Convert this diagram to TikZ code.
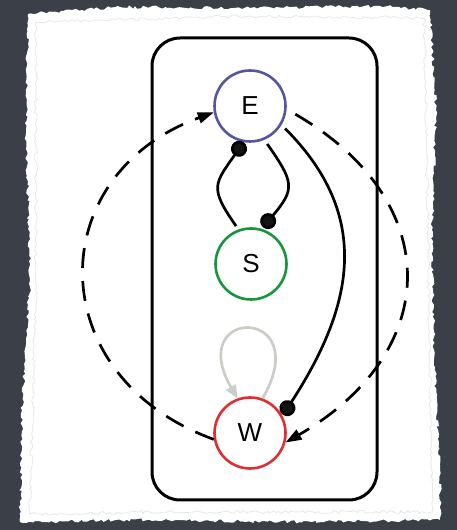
\documentclass[tikz,border=0pt]{standalone}
\usepackage{fontspec}
\setmainfont{Liberation Sans}
\usetikzlibrary{arrows.meta,decorations.pathmorphing}
\definecolor{slate}{RGB}{58,63,72}
\definecolor{paperedge}{RGB}{232,232,232}
\definecolor{enode}{RGB}{85,85,160}
\definecolor{snode}{RGB}{20,150,60}
\definecolor{wnode}{RGB}{225,45,50}
\definecolor{loopgray}{RGB}{205,205,200}
\definecolor{dotblack}{RGB}{20,20,20}
\newcommand{\statefont}{\fontsize{26}{30}\selectfont}
\begin{document}
\begin{tikzpicture}[x=1pt,y=1pt,
  state/.style={circle, draw, line width=2.6pt, minimum size=71pt, inner sep=0pt},
  dotline/.style={draw=black, line width=2.7pt, -{Circle[length=16pt,fill=dotblack]}},
  dashedarc/.style={draw=black, line width=2.7pt, dash pattern=on 20pt off 13pt,
    -{Triangle[length=16pt,width=11pt]}},
  selfloop/.style={draw=loopgray, line width=2.7pt, -{Triangle[length=13pt,width=11pt]}},
  paper/.style={decorate, decoration={random steps, segment length=3pt, amplitude=1.6pt}}
]
\useasboundingbox (0,0) rectangle (457,530);
\fill[slate] (0,0) rectangle (457,530);
\pgfmathsetseed{7}
\fill[white, paper] (28,516) -- (120,523) -- (250,522) -- (380,524) -- (430,520)
  -- (436,420) -- (432,300) -- (434,180) -- (440,60) -- (440,10) -- (300,8)
  -- (150,10) -- (20,8) -- (22,120) -- (30,250) -- (26,400) -- cycle;
\draw[paperedge, line width=0.8pt, paper] (36,508) -- (250,514) -- (424,512)
  -- (428,300) -- (432,18) -- (150,18) -- (30,16) -- (36,250) -- cycle;

\node[draw, line width=3pt, rounded corners=28pt, minimum width=225pt,
  minimum height=462pt, inner sep=0pt] (box) at (264.5,261) {};

\node[state, draw=enode] (E) at (250,424) {\statefont E};
\node[state, draw=snode] (S) at (251,266) {\statefont S};
\node[state, draw=wnode] (W) at (250,97) {\statefont W};

\draw[dotline, shorten <=4pt] (S.110) to[out=125,in=235,looseness=1.5] (E.260);
\draw[dotline, shorten <=5pt, shorten >=2pt] (E.-67) to[out=-55,in=50,looseness=1.5] (S.73);
\draw[dotline, shorten <=5pt, shorten >=1pt] (E.-31) to[out=-45,in=57,looseness=1.14] (W.28);
\draw[selfloop] (W.70) to[out=60,in=120,looseness=10.9] (W.110);
\draw[dashedarc] (W.190) to[out=160,in=200,looseness=1.44] (E.190);
\draw[dashedarc, shorten <=10pt] (E.-5) to[out=-30,in=30,looseness=1.4] (W.-15);
\end{tikzpicture}
\end{document}
